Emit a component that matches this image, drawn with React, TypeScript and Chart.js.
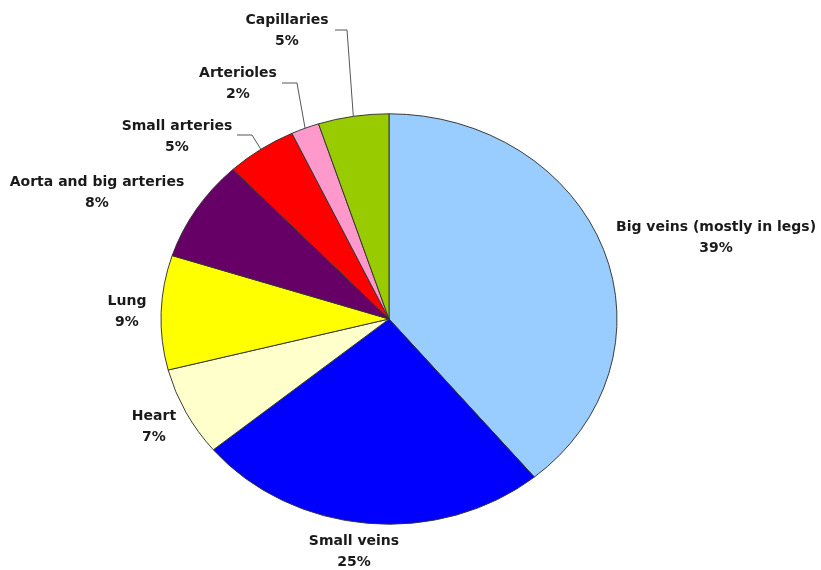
import React, { useEffect, useRef } from 'react';
import { Chart, registerables } from 'chart.js';

Chart.register(...registerables);

const categories = [
  'Big veins (mostly in legs)',
  'Small veins',
  'Heart',
  'Lung',
  'Aorta and big arteries',
  'Small arteries',
  'Arterioles',
  'Capillaries',
];
const values = [39, 25, 7, 9, 8, 5, 2, 5];
const sliceColors = ['#99CCFF', '#0000FF', '#FFFFCC', '#FFFF00', '#660066', '#FF0000', '#FF99CC', '#99CC00'];

// label layout: centre x, first line y (middle), optional leader elbow and end
const labelLayout = [
  { x: 716, y: 227 },
  { x: 354, y: 541 },
  { x: 154, y: 416 },
  { x: 127, y: 301 },
  { x: 97, y: 182 },
  { x: 177, y: 126, elbow: [252, 135], end: [237, 135] },
  { x: 238, y: 73, elbow: [297, 83], end: [282, 83] },
  { x: 287, y: 20, elbow: [347, 30], end: [335, 30] },
];

const Y_SQUASH = 0.9;

export default function App() {
  const canvasRef = useRef<HTMLCanvasElement | null>(null);

  useEffect(() => {
    if (!canvasRef.current) return;

    const ellipsePlugin = {
      id: 'ellipse',
      beforeDatasetsDraw(chart: any) {
        const arc = chart.getDatasetMeta(0).data[0];
        const ctx = chart.ctx;
        ctx.save();
        ctx.translate(arc.x, arc.y);
        ctx.scale(1, Y_SQUASH);
        ctx.translate(-arc.x, -arc.y);
      },
      afterDatasetsDraw(chart: any) {
        chart.ctx.restore();
      },
    };

    const labelPlugin = {
      id: 'sliceLabels',
      afterDraw(chart: any) {
        const ctx = chart.ctx;
        const meta = chart.getDatasetMeta(0);
        ctx.save();
        ctx.strokeStyle = '#555555';
        ctx.lineWidth = 1;
        meta.data.forEach((arc: any, i: number) => {
          const lay: any = labelLayout[i];
          if (lay.elbow) {
            const mid = (arc.startAngle + arc.endAngle) / 2;
            const px = arc.x + Math.cos(mid) * arc.outerRadius;
            const py = arc.y + Math.sin(mid) * arc.outerRadius * Y_SQUASH;
            ctx.beginPath();
            ctx.moveTo(px, py);
            ctx.lineTo(lay.elbow[0], lay.elbow[1]);
            ctx.lineTo(lay.end[0], lay.end[1]);
            ctx.stroke();
          }
        });
        ctx.fillStyle = '#1a1a1a';
        ctx.font = 'bold 14px "DejaVu Sans", sans-serif';
        ctx.textAlign = 'center';
        ctx.textBaseline = 'middle';
        categories.forEach((name, i) => {
          const lay = labelLayout[i];
          ctx.fillText(name, lay.x, lay.y);
          ctx.fillText(values[i] + '%', lay.x, lay.y + 21);
        });
        ctx.restore();
      },
    };

    const chart = new Chart(canvasRef.current, {
      type: 'pie',
      data: {
        labels: categories,
        datasets: [
          {
            data: values,
            backgroundColor: sliceColors,
            borderColor: '#333333',
            borderWidth: 1,
          },
        ],
      },
      options: {
        responsive: false,
        animation: false,
        radius: 228,
        layout: { padding: { left: 0, right: 43, top: 68, bottom: 0 } },
        plugins: {
          legend: { display: false },
          tooltip: { enabled: false },
        },
      } as any,
      plugins: [ellipsePlugin, labelPlugin],
    });

    return () => chart.destroy();
  }, []);

  return (
    <div style={{ position: 'fixed', left: 0, top: 0, width: 821, height: 570, background: '#ffffff' }}>
      <canvas ref={canvasRef} width={821} height={570} />
    </div>
  );
}
